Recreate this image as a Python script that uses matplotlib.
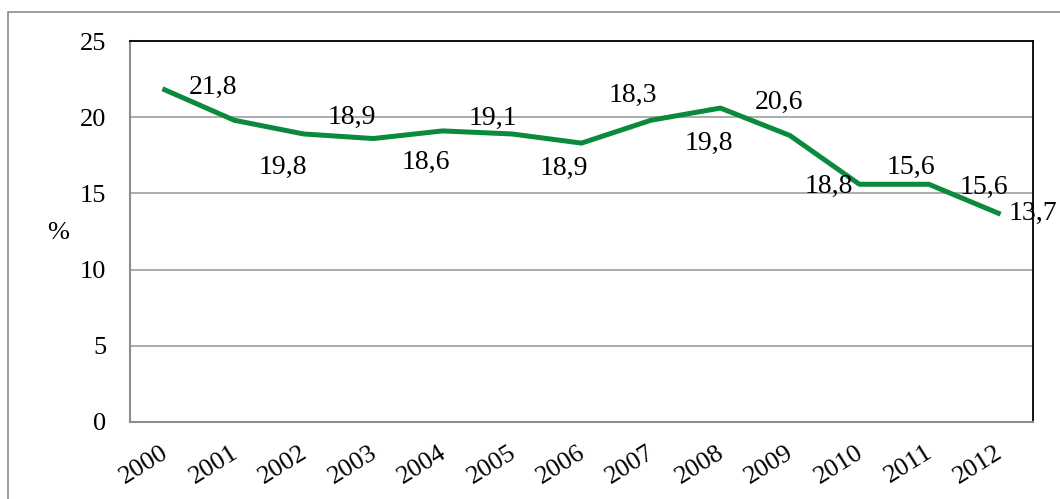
import matplotlib.pyplot as plt
import matplotlib.transforms as mtransforms
from matplotlib.patches import Rectangle

# ============================
# DATA
# ============================
years = ["2000", "2001", "2002", "2003", "2004", "2005", "2006",
         "2007", "2008", "2009", "2010", "2011", "2012"]
share = [21.8, 19.8, 18.9, 18.6, 19.1, 18.9, 18.3,
         19.8, 20.6, 18.8, 15.6, 15.6, 13.7]

# label offsets in points (dx, dy) relative to each point
label_offsets = [(35, 2), (35, -34), (35, 12), (38, -17), (36, 9), (37, -25),
                 (37, 34), (42, -17), (42, 4), (28, -37), (37, 12), (40, -2), (25, 0)]

plt.rcParams["font.family"] = ["Liberation Serif", "DejaVu Serif"]

fig = plt.figure(figsize=(10.6, 4.99), dpi=100)
ax = fig.add_axes([130 / 1060, 77 / 499, 903 / 1060, 381 / 499])

# outer chart frame
fig.patches.append(Rectangle((8 / 1060, -0.1), 1.2, (499 - 12) / 499 + 0.1,
                             transform=fig.transFigure, fill=False,
                             edgecolor="#8c8c8c", linewidth=1.2))

x = list(range(len(years)))
ax.plot(x, share, color="#0b8a3e", linewidth=3.6, solid_joinstyle="round", zorder=3)

for i, v in enumerate(share):
    dx, dy = label_offsets[i]
    ax.annotate(f"{v:.1f}".replace(".", ","), (i, v), xytext=(dx, dy),
                textcoords="offset points", ha="center", va="center",
                fontsize=20, zorder=4)

ax.set_xlim(-0.5, len(years) - 0.5)
ax.set_ylim(0, 25)
ax.set_yticks([0, 5, 10, 15, 20, 25])
ax.set_xticks(x)
ax.set_xticklabels(years, rotation=32, ha="right", rotation_mode="anchor")
ax.tick_params(axis="both", length=0, labelsize=19)
ax.tick_params(axis="y", pad=17)
ax.tick_params(axis="x", pad=14)

# nudge the year labels slightly left
shift = mtransforms.ScaledTranslation(-4 / 100, 0, fig.dpi_scale_trans)
for lbl in ax.get_xticklabels():
    lbl.set_transform(lbl.get_transform() + shift)

ax.grid(axis="y", color="#a6a6a6", linewidth=1.3)
ax.set_axisbelow(True)
for side in ["left", "bottom"]:
    ax.spines[side].set_color("#8c8c8c")
    ax.spines[side].set_linewidth(1.5)
for side in ["top", "right"]:
    ax.spines[side].set_color("black")
    ax.spines[side].set_linewidth(1.3)

fig.text(58 / 1060, 1 - 233 / 499, "%", fontsize=19, ha="center", va="center")

fig.savefig("out.png", dpi=100)
